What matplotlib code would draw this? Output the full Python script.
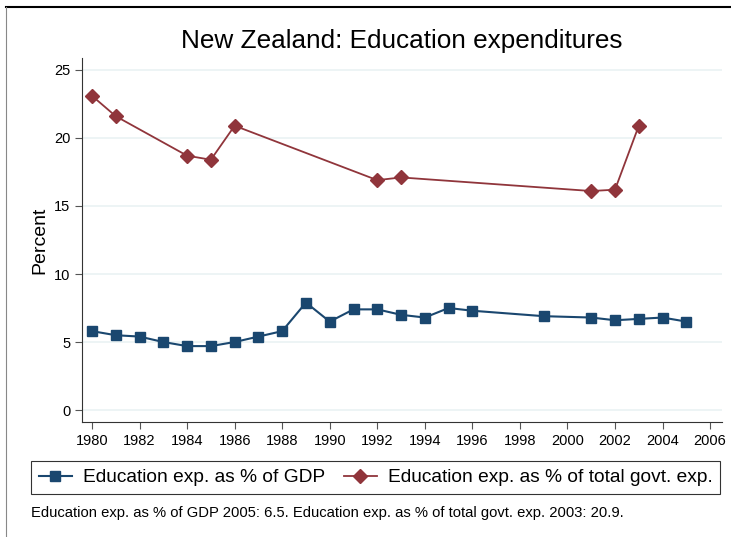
import matplotlib.pyplot as plt
from matplotlib.lines import Line2D

gdp_years = [1980, 1981, 1982, 1983, 1984, 1985, 1986, 1987, 1988, 1989, 1990,
             1991, 1992, 1993, 1994, 1995, 1996, 1999, 2001, 2002, 2003, 2004, 2005]
gdp_values = [5.8, 5.5, 5.4, 5.0, 4.7, 4.7, 5.0, 5.4, 5.8, 7.9, 6.5,
              7.4, 7.4, 7.0, 6.8, 7.5, 7.3, 6.9, 6.8, 6.6, 6.7, 6.8, 6.5]
govt_years = [1980, 1981, 1984, 1985, 1986, 1992, 1993, 2001, 2002, 2003]
govt_values = [23.1, 21.6, 18.7, 18.4, 20.9, 16.9, 17.1, 16.1, 16.2, 20.9]
x_ticks = list(range(1980, 2007, 2))
y_ticks = [0, 5, 10, 15, 20, 25]

plt.rcParams['font.family'] = ['Liberation Sans', 'DejaVu Sans']

fig = plt.figure(figsize=(7.31, 5.37), dpi=100)
ax = fig.add_axes([82 / 731, 1 - 422 / 537, 640 / 731, 364 / 537])

navy = '#1a476f'
maroon = '#90353b'

ax.plot(gdp_years, gdp_values, color=navy, marker='s', markersize=7.5, linewidth=1.5,
        label='Education exp. as % of GDP')
ax.plot(govt_years, govt_values, color=maroon, marker='D', markersize=7.5, linewidth=1.3,
        label='Education exp. as % of total govt. exp.')

ax.set_xlim(1979.58, 2006.5)
ax.set_ylim(-0.88, 25.88)
ax.set_xticks(x_ticks)
ax.set_yticks(y_ticks)
ax.grid(axis='y', color='#eaf2f3', linewidth=1.2)
ax.set_axisbelow(True)
for s in ['top', 'right']:
    ax.spines[s].set_visible(False)
ax.spines['left'].set_color('#333333')
ax.spines['bottom'].set_color('#333333')
ax.tick_params(length=5, width=0.8, color='#555555', labelsize=10.5)
ax.set_ylabel('Percent', fontsize=14)
ax.set_title('New Zealand: Education expenditures', fontsize=18.8, pad=7)

leg = fig.legend(loc='lower left', bbox_to_anchor=(31 / 731, 1 - 494 / 537, 689 / 731, 34 / 537),
                 ncol=2, mode='expand', fontsize=13.8, frameon=True, fancybox=False,
                 edgecolor='black', borderaxespad=0, borderpad=0.4,
                 handlelength=1.75, handletextpad=0.55, columnspacing=0.9)
leg.get_frame().set_linewidth(0.8)

fig.text(31 / 731, 1 - 513 / 537,
         'Education exp. as % of GDP 2005: 6.5. Education exp. as % of total govt. exp. 2003: 20.9.',
         fontsize=10.65, va='center')

fig.add_artist(Line2D([6 / 731, 1], [1 - 7 / 537, 1 - 7 / 537], color='black', linewidth=1.5))
fig.add_artist(Line2D([6 / 731, 6 / 731], [0, 1 - 7 / 537], color='#888888', linewidth=0.8))

fig.savefig('out.png', dpi=100)
